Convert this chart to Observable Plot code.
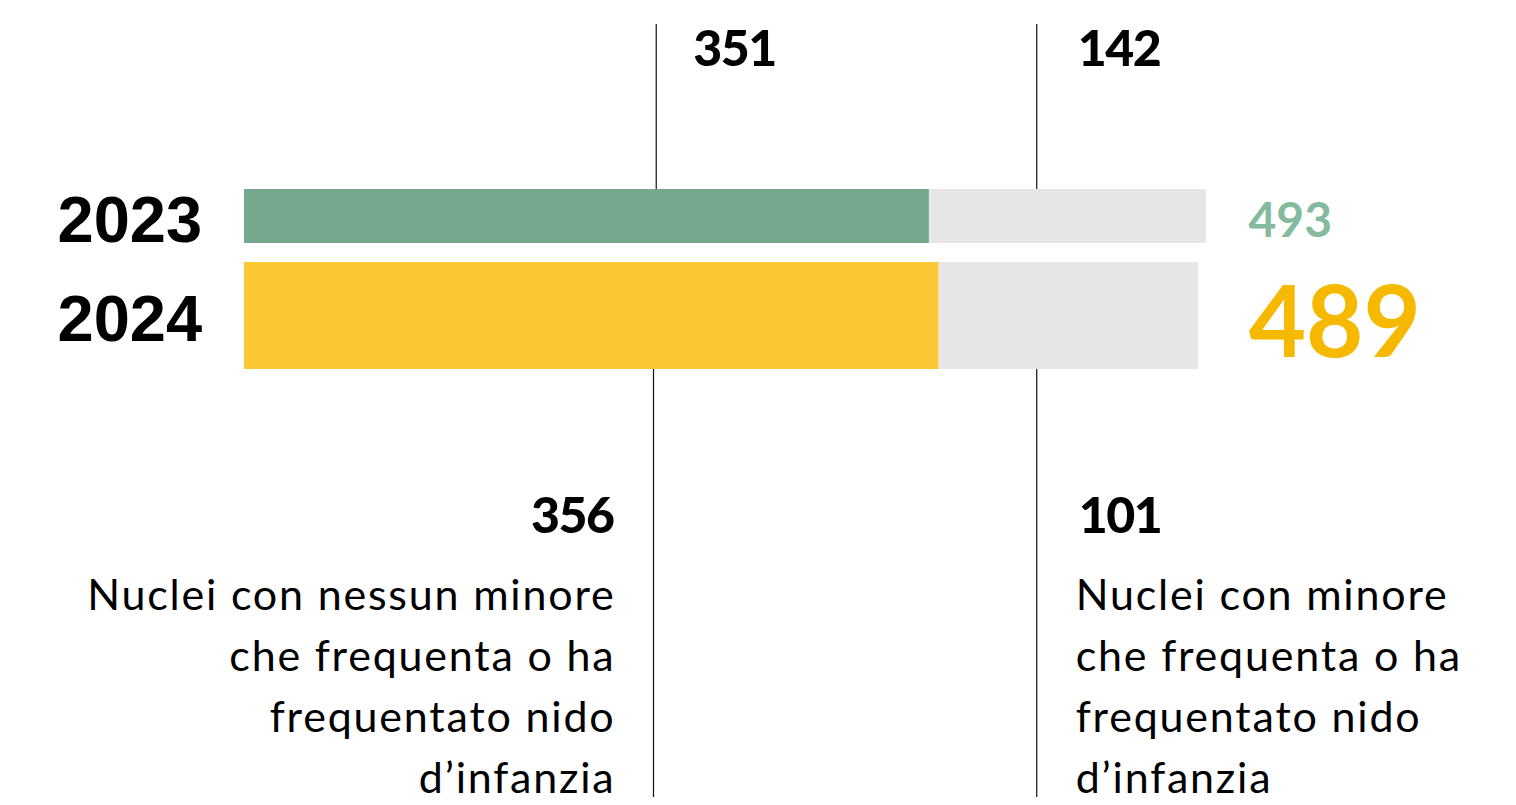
<!DOCTYPE html>
<html><head><meta charset="utf-8">
<script src="https://cdn.jsdelivr.net/npm/d3@7"></script>
<script src="https://cdn.jsdelivr.net/npm/@observablehq/plot@0.6"></script>
<style>html,body{margin:0;padding:0;background:#fff}svg{display:block}</style>
</head><body><div id="chart"></div>
<script>
// ---- data ----
const years = ["2023", "2024"];
const senzaNido = [351, 356];          // nuclei con nessun minore al nido (colored segment)
const conNido = [142, 133];            // grey segment as drawn
const totali = [493, 489];
const etichetteSenza = ["351", "356"];
const etichetteCon = ["142", "101"];
const ancoreSopra = [211, 406];        // annotation line anchors (x units), above 2023
const ancoreSotto = [209.6, 406];      // annotation line anchors (x units), below 2024
const testoSenza = "Nuclei con nessun minore\nche frequenta o ha\nfrequentato nido\nd’infanzia";
const testoCon = "Nuclei con minore\nche frequenta o ha\nfrequentato nido\nd’infanzia";
const coloreAnno = ["#74a98e", "#fbc733"];
const coloreTotale = ["#84bb9e", "#f7b900"];
const grigio = "#e6e6e6";

const FONT = "Lato, 'Noto Sans', sans-serif";
const rows = years.map((y, i) => ({year: y, a: senzaNido[i], b: conNido[i], tot: totali[i], fill: coloreAnno[i], tfill: coloreTotale[i]}));
const r23 = rows.filter(d => d.year === "2023");
const r24 = rows.filter(d => d.year === "2024");

const plot = Plot.plot({
  width: 1516, height: 805,
  marginTop: 0, marginRight: 0, marginBottom: 0, marginLeft: 0,
  x: {domain: [0, totali[0]], range: [244, 1206], axis: null},
  y: {type: "band", domain: years, range: [155, 369], padding: 0, axis: null},
  marks: [
    // bars 2023
    Plot.barX(r23, {y: "year", x1: 0, x2: "a", fill: d => d.fill, insetTop: 34, insetBottom: 19}),
    Plot.barX(r23, {y: "year", x1: "a", x2: d => d.a + d.b, fill: grigio, insetTop: 34, insetBottom: 19}),
    // bars 2024
    Plot.barX(r24, {y: "year", x1: 0, x2: "a", fill: d => d.fill}),
    Plot.barX(r24, {y: "year", x1: "a", x2: d => d.a + d.b, fill: grigio}),
    // annotation lines
    Plot.ruleX(ancoreSopra, {x: d => d, stroke: "#111", strokeWidth: 1.2, insetTop: 24, insetBottom: 805 - 189}),
    Plot.ruleX(ancoreSotto, {x: d => d, stroke: "#111", strokeWidth: 1.2, insetTop: 369, insetBottom: 8}),
    // year labels
    Plot.text(r23, {y: "year", text: "year", frameAnchor: "left", dx: 57, dy: 12.5, textAnchor: "start",
      fontSize: 65, fontWeight: "bold", fontFamily: "'Liberation Sans', Arial, sans-serif", fill: "#000"}),
    Plot.text(r24, {y: "year", text: "year", frameAnchor: "left", dx: 57, dy: 4.5, textAnchor: "start",
      fontSize: 65, fontWeight: "bold", fontFamily: "'Liberation Sans', Arial, sans-serif", fill: "#000"}),
    // totals
    Plot.text(r23, {y: "year", x: "tot", text: d => String(d.tot), dx: 42, dy: 13, textAnchor: "start",
      fontSize: 48, fontWeight: 700, fontFamily: FONT, fill: d => d.tfill}),
    Plot.text(r24, {y: "year", x: "tot", text: d => String(d.tot), dx: 50, dy: 9.5, textAnchor: "start",
      fontSize: 99, fontWeight: 700, fontFamily: FONT, fill: d => d.tfill}),
    // top labels (2023)
    Plot.text([0], {x: () => ancoreSopra[0], text: () => etichetteSenza[0], frameAnchor: "top", lineAnchor: "middle", dx: 37, dy: 49,
      textAnchor: "start", fontSize: 50, fontWeight: 900, fontFamily: FONT, fill: "#000"}),
    Plot.text([0], {x: () => ancoreSopra[1], text: () => etichetteCon[0], frameAnchor: "top", lineAnchor: "middle", dx: 41, dy: 49,
      textAnchor: "start", fontSize: 50, fontWeight: 900, fontFamily: FONT, fill: "#000"}),
    // bottom labels (2024)
    Plot.text([0], {x: () => ancoreSotto[0], text: () => etichetteSenza[1], frameAnchor: "top", lineAnchor: "middle", dx: -40, dy: 516,
      textAnchor: "end", fontSize: 50, fontWeight: 900, fontFamily: FONT, fill: "#000"}),
    Plot.text([0], {x: () => ancoreSotto[1], text: () => etichetteCon[1], frameAnchor: "top", lineAnchor: "middle", dx: 42, dy: 516,
      textAnchor: "start", fontSize: 50, fontWeight: 900, fontFamily: FONT, fill: "#000"}),
    // category descriptions
    Plot.text([testoSenza], {x: () => ancoreSotto[0], text: d => d, frameAnchor: "top", dx: -38, dy: 566,
      lineAnchor: "top", lineHeight: 61 / 43, textAnchor: "end", fontSize: 43, fontFamily: FONT, fill: "#000"}),
    Plot.text([testoCon], {x: () => ancoreSotto[1], text: d => d, frameAnchor: "top", dx: 39, dy: 566,
      lineAnchor: "top", lineHeight: 61 / 43, textAnchor: "start", fontSize: 43, fontFamily: FONT, fill: "#000"})
  ]
});
const svg = d3.select(plot);
svg.selectAll('g[font-size="43"]').style("letter-spacing", "1.8px");
svg.selectAll('g[font-size="50"]').style("letter-spacing", "-1.5px");
document.getElementById("chart").appendChild(plot);
</script>
</body></html>
